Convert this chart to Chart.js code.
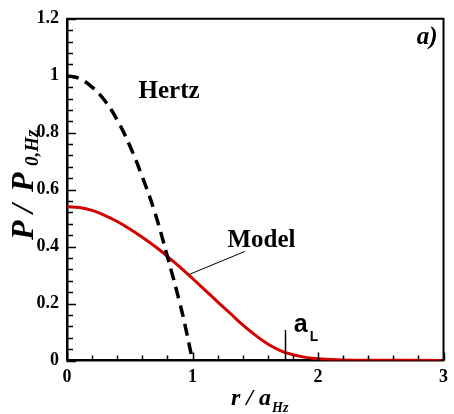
<!DOCTYPE html>
<html>
<head>
<meta charset="utf-8">
<script src="https://cdn.jsdelivr.net/npm/chart.js@4/dist/chart.umd.min.js"></script>
<style>
  html, body { margin: 0; padding: 0; background: #fff; }
  #wrap { width: 454px; height: 414px; }
</style>
</head>
<body>
<div id="wrap"><canvas id="pressure" width="454" height="414"></canvas></div>
<script>
// radial position r / a_Hz and normalized pressure P / P_0,Hz
const hertzR = [0, 0.1, 0.2, 0.3, 0.4, 0.5, 0.6, 0.7, 0.8, 0.9, 0.95, 1.0];
const hertzP = [1.0, 0.99, 0.96, 0.913, 0.845, 0.755, 0.645, 0.52, 0.365, 0.2, 0.105, 0];

const modelR = [0, 0.1, 0.2, 0.3, 0.4, 0.5, 0.6, 0.7, 0.8, 0.9, 1.0, 1.1, 1.2, 1.3, 1.4, 1.5, 1.6, 1.7, 1.8, 1.9, 2.0, 2.2, 2.5, 2.98];
const modelP = [0.54, 0.537, 0.527, 0.51, 0.488, 0.462, 0.433, 0.401, 0.366, 0.328, 0.288, 0.247, 0.206, 0.166, 0.125, 0.089, 0.058, 0.035, 0.02, 0.011, 0.006, 0.002, 0.001, 0];

const xTickLabels = ["0", "1", "2", "3"];
const yTickLabels = ["0", "0.2", "0.4", "0.6", "0.8", "1", "1.2"];

// contact radius marker a_L
const aL = 1.735;
const aLTop = 0.107;

const serif = "'Liberation Serif', 'Times New Roman', serif";
const sans = "'Liberation Sans', Arial, sans-serif";

const toPoints = (xs, ys) => xs.map((x, i) => ({ x: x, y: ys[i] }));

const decorations = {
  id: "decorations",
  afterDraw(chart) {
    const { ctx, chartArea: a, scales } = chart;
    const xs = scales.x, ys = scales.y;
    const px = (v) => xs.getPixelForValue(v);
    const py = (v) => ys.getPixelForValue(v);
    ctx.save();
    ctx.strokeStyle = "#000";

    // frame on top and right
    ctx.lineWidth = 2;
    ctx.beginPath();
    ctx.moveTo(a.left, a.top);
    ctx.lineTo(a.right, a.top);
    ctx.lineTo(a.right, a.bottom);
    ctx.stroke();

    // inward ticks
    ctx.lineWidth = 1.5;
    ctx.beginPath();
    for (let i = 0; i <= 15; i++) {
      const x = Math.round(px(i * 0.2)) + 0.5;
      const len = i % 5 === 0 ? 8 : 5;
      ctx.moveTo(x, a.bottom);
      ctx.lineTo(x, a.bottom - len);
    }
    for (let i = 0; i <= 30; i++) {
      const y = Math.round(py(i * 0.04)) + 0.5;
      const len = i % 5 === 0 ? 9 : 6;
      ctx.moveTo(a.left, y);
      ctx.lineTo(a.left + len, y);
    }
    ctx.stroke();

    // a_L marker
    ctx.lineWidth = 1.5;
    ctx.beginPath();
    ctx.moveTo(Math.round(px(aL)) + 0.5, py(0));
    ctx.lineTo(Math.round(px(aL)) + 0.5, py(aLTop));
    ctx.stroke();

    // leader line to the model curve
    ctx.lineWidth = 1;
    ctx.beginPath();
    ctx.moveTo(px(0.978), py(0.303));
    ctx.lineTo(px(1.417), py(0.383));
    ctx.stroke();

    ctx.fillStyle = "#000";
    ctx.textBaseline = "alphabetic";
    ctx.textAlign = "left";
    ctx.font = "bold 25px " + serif;
    ctx.fillText("Hertz", px(0.57), py(0.923));
    ctx.fillText("Model", px(1.278), py(0.397));

    ctx.textAlign = "right";
    ctx.font = "italic bold 25px " + serif;
    ctx.fillText("a)", px(2.953), py(1.11));

    ctx.textAlign = "left";
    ctx.font = "bold 25px " + sans;
    ctx.fillText("a", px(1.798) + 1, py(0.099));
    ctx.font = "bold 14px " + sans;
    ctx.fillText("L", px(1.798) + 17, py(0.07));

    // x axis title
    ctx.font = "italic bold 24px " + serif;
    const xMain = "r / a";
    ctx.fillText(xMain, 231, 405);
    const wX = ctx.measureText(xMain).width;
    ctx.font = "italic bold 14px " + serif;
    ctx.fillText("Hz", 231 + wX + 1, 412);

    // y axis title, rotated
    ctx.translate(33, 0);
    ctx.rotate(-Math.PI / 2);
    ctx.font = "italic bold 32px " + serif;
    ctx.fillText("P", -240, 0);
    ctx.fillText("/", -213, 0);
    ctx.fillText("P", -192, 0);
    ctx.font = "italic bold 19px " + serif;
    ctx.fillText("0,Hz", -166, 5);
    ctx.restore();
  }
};

new Chart(document.getElementById("pressure").getContext("2d"), {
  type: "line",
  data: {
    datasets: [
      {
        label: "Hertz",
        data: toPoints(hertzR, hertzP),
        borderColor: "#000",
        borderWidth: 3.5,
        borderDash: [12, 7],
        tension: 0.4,
        pointRadius: 0,
        fill: false,
      },
      {
        label: "Model",
        data: toPoints(modelR, modelP),
        borderColor: "#d40000",
        borderWidth: 3,
        tension: 0.4,
        pointRadius: 0,
        fill: false,
      },
    ],
  },
  options: {
    responsive: false,
    animation: false,
    layout: { padding: { top: 11, right: 6.5, left: 0, bottom: 0 } },
    plugins: { legend: { display: false }, tooltip: { enabled: false } },
    scales: {
      x: {
        type: "linear",
        min: 0,
        max: 3,
        afterFit: (s) => { s.height = 53.5; },
        grid: { display: false, drawTicks: false },
        border: { display: true, color: "#000", width: 2.5 },
        ticks: {
          stepSize: 1,
          padding: 6,
          color: "#000",
          font: { family: serif, size: 18, weight: "bold" },
          callback: (v, i) => xTickLabels[i],
        },
      },
      y: {
        type: "linear",
        min: 0,
        max: 1.2,
        afterFit: (s) => { s.width = 67; },
        grid: { display: false, drawTicks: false },
        border: { display: true, color: "#000", width: 2.5 },
        ticks: {
          stepSize: 0.2,
          padding: 8,
          color: "#000",
          font: { family: serif, size: 18, weight: "bold" },
          callback: (v, i) => yTickLabels[i],
        },
      },
    },
  },
  plugins: [decorations],
});
</script>
</body>
</html>
